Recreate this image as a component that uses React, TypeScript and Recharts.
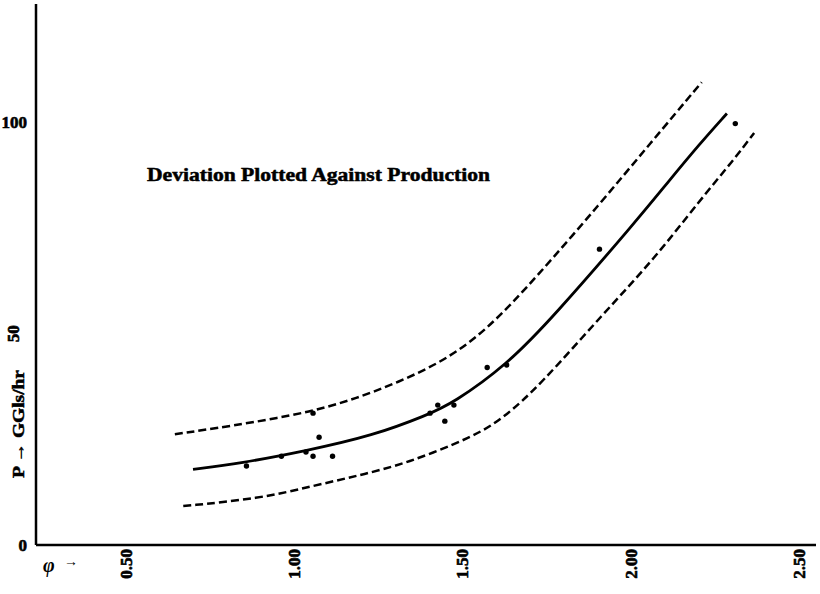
import React from 'react'
import {
  ComposedChart,
  Line,
  Scatter,
  XAxis,
  YAxis,
  Customized,
} from 'recharts'

// Observed points (phi, P)
const observed = [
  { x: 0.856, y: 18.7 },
  { x: 0.96, y: 21.0 },
  { x: 1.033, y: 22.0 },
  { x: 1.054, y: 21.0 },
  { x: 1.072, y: 25.5 },
  { x: 1.112, y: 21.0 },
  { x: 1.054, y: 31.2 },
  { x: 1.402, y: 31.2 },
  { x: 1.425, y: 33.1 },
  { x: 1.446, y: 29.3 },
  { x: 1.473, y: 33.1 },
  { x: 1.572, y: 42.0 },
  { x: 1.63, y: 42.6 },
  { x: 1.906, y: 70.0 },
  { x: 2.31, y: 99.7 },
]

// Fitted curve
const fitCurve = [
  { x: 0.697, y: 17.9 },
  { x: 0.836, y: 19.3 },
  { x: 1.035, y: 22.3 },
  { x: 1.233, y: 25.9 },
  { x: 1.392, y: 30.7 },
  { x: 1.471, y: 33.6 },
  { x: 1.63, y: 42.6 },
  { x: 1.769, y: 54.0 },
  { x: 2.017, y: 76.8 },
  { x: 2.106, y: 85.5 },
  { x: 2.205, y: 95.0 },
  { x: 2.285, y: 102.1 },
]

// Upper deviation band
const upperBand = [
  { x: 0.643, y: 26.2 },
  { x: 0.797, y: 28.0 },
  { x: 1.054, y: 31.4 },
  { x: 1.233, y: 36.0 },
  { x: 1.432, y: 42.8 },
  { x: 1.571, y: 50.8 },
  { x: 1.719, y: 63.4 },
  { x: 1.908, y: 80.8 },
  { x: 2.057, y: 95.0 },
  { x: 2.21, y: 109.5 },
]

// Lower deviation band
const lowerBand = [
  { x: 0.668, y: 9.2 },
  { x: 0.896, y: 11.0 },
  { x: 1.045, y: 13.8 },
  { x: 1.193, y: 16.5 },
  { x: 1.332, y: 19.3 },
  { x: 1.531, y: 25.6 },
  { x: 1.62, y: 30.0 },
  { x: 1.729, y: 37.8 },
  { x: 1.918, y: 54.8 },
  { x: 2.066, y: 67.4 },
  { x: 2.205, y: 81.6 },
  { x: 2.304, y: 91.0 },
  { x: 2.366, y: 97.5 },
]

const xTicks = [0.5, 1.0, 1.5, 2.0, 2.5]
const yTicks = [0, 50, 100]

const FONT = '"Liberation Serif", "DejaVu Serif", serif'

const XTick = ({ x, y, payload }: any) => (
  <text
    x={x}
    y={y - 4}
    transform={`rotate(-90 ${x} ${y - 4})`}
    textAnchor="end"
    dominantBaseline="central"
    fontFamily={FONT}
    fontWeight="900"
    fontSize={17}
    stroke="#000"
    strokeWidth={0.6}
    fill="#000"
  >
    {payload.value.toFixed(2)}
  </text>
)

const YTick = ({ x, y, payload }: any) => {
  const label = String(payload.value)
  if (payload.value === 50) {
    return (
      <text
        x={x - 15}
        y={y}
        transform={`rotate(-90 ${x - 15} ${y})`}
        textAnchor="middle"
        dominantBaseline="central"
        fontFamily={FONT}
        fontWeight="900"
        fontSize={17}
        stroke="#000"
        strokeWidth={0.6}
        fill="#000"
      >
        {label}
      </text>
    )
  }
  return (
    <text
      x={x - 1}
      y={y}
      textAnchor="end"
      dominantBaseline="central"
      fontFamily={FONT}
      fontWeight="900"
      fontSize={17}
      stroke="#000"
      strokeWidth={0.6}
      fill="#000"
    >
      {label}
    </text>
  )
}

const Annotations = () => (
  <g fontFamily={FONT} fontWeight="bold" fill="#000">
    <text
      x={147}
      y={181}
      fontSize={18}
      stroke="#000"
      strokeWidth={0.5}
      textLength={343}
      lengthAdjust="spacingAndGlyphs"
    >
      Deviation Plotted Against Production
    </text>
    <text
      x={18}
      y={424}
      transform="rotate(-90 18 424)"
      textAnchor="middle"
      dominantBaseline="central"
      fontSize={16}
      stroke="#000"
      strokeWidth={0.5}
      textLength={108}
      lengthAdjust="spacingAndGlyphs"
    >
      P → GGls/hr
    </text>
    <text x={43} y={572} fontSize={20} fontStyle="italic">
      φ
    </text>
    <text x={64} y={566} fontSize={14}>
      →
    </text>
  </g>
)

const Dot = (props: any) => <circle cx={props.cx} cy={props.cy} r={2.7} fill="#000" />

export default function App() {
  return (
    <div style={{ position: 'absolute', left: 0, top: 0, width: 820, height: 594, background: '#fff' }}>
      <ComposedChart width={820} height={594} margin={{ top: 4, right: 4, left: 0, bottom: 0 }}>
        <XAxis
          type="number"
          dataKey="x"
          domain={[0.23, 2.55]}
          ticks={xTicks}
          tick={<XTick />}
          tickLine={false}
          axisLine={{ stroke: '#000', strokeWidth: 2.5 }}
          height={49}
          allowDataOverflow
        />
        <YAxis
          type="number"
          dataKey="y"
          domain={[0, 128]}
          ticks={yTicks}
          tick={<YTick />}
          tickLine={false}
          axisLine={{ stroke: '#000', strokeWidth: 2.5 }}
          width={36}
          allowDataOverflow
        />
        <Line
          data={upperBand}
          dataKey="y"
          type="basis"
          stroke="#000"
          strokeWidth={2.5}
          strokeDasharray="8 4"
          dot={false}
          isAnimationActive={false}
        />
        <Line
          data={fitCurve}
          dataKey="y"
          type="basis"
          stroke="#000"
          strokeWidth={2.8}
          dot={false}
          isAnimationActive={false}
        />
        <Line
          data={lowerBand}
          dataKey="y"
          type="basis"
          stroke="#000"
          strokeWidth={2.5}
          strokeDasharray="8 4"
          dot={false}
          isAnimationActive={false}
        />
        <Scatter data={observed} dataKey="y" shape={<Dot />} isAnimationActive={false} />
        <Customized component={Annotations} />
      </ComposedChart>
    </div>
  )
}
